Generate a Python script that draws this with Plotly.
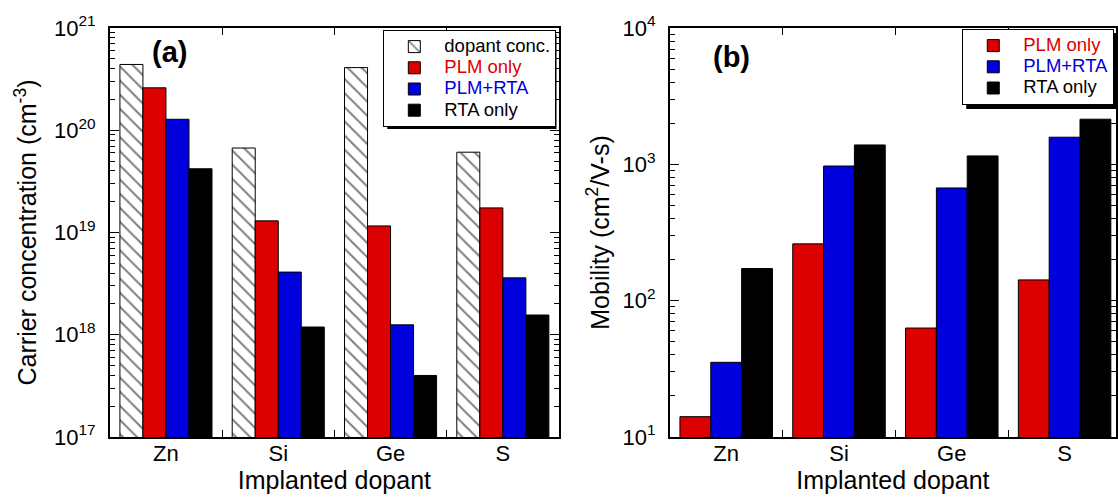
import plotly.graph_objects as go

dopants = ["Zn", "Si", "Ge", "S"]

conc_dopant = [4.4e20, 6.7e19, 4.1e20, 6.1e19]
conc_plm = [2.6e20, 1.3e19, 1.16e19, 1.74e19]
conc_plm_rta = [1.28e20, 4.1e18, 1.25e18, 3.6e18]
conc_rta = [4.2e19, 1.19e18, 4.0e17, 1.56e18]

mob_plm = [14.1, 261, 63, 142]
mob_plm_rta = [35.3, 972, 671, 1581]
mob_rta = [172, 1387, 1153, 2143]

RED = "#dc0000"
BLUE = "#0000dc"
FONT = "Liberation Sans"
W, H = 1118, 497
TOP, BOT = 28, 437
PH = BOT - TOP


def px_x(x):
    return x / W


def px_y(y):
    return 1 - (y - TOP) / PH


def lname(text, color="black"):
    return "<span style='font-size:18.5px;color:%s'>%s</span>" % (color, text)


fig = go.Figure()

line = dict(color="black", width=1)

fig.add_trace(go.Bar(x=dopants, y=conc_dopant, name=lname("dopant conc."),
                     marker=dict(color="white", line=line,
                                 pattern=dict(shape="\\", fgcolor="black", bgcolor="white", size=10, solidity=0.2)),
                     xaxis="x", yaxis="y", legend="legend"))
fig.add_trace(go.Bar(x=dopants, y=conc_plm, name=lname("PLM only", RED),
                     marker=dict(color=RED, line=line), xaxis="x", yaxis="y", legend="legend"))
fig.add_trace(go.Bar(x=dopants, y=conc_plm_rta, name=lname("PLM+RTA", BLUE),
                     marker=dict(color=BLUE, line=line), xaxis="x", yaxis="y", legend="legend"))
fig.add_trace(go.Bar(x=dopants, y=conc_rta, name=lname("RTA only"),
                     marker=dict(color="black", line=line), xaxis="x", yaxis="y", legend="legend"))

fig.add_trace(go.Bar(x=dopants, y=mob_plm, name=lname("PLM only", RED),
                     marker=dict(color=RED, line=line), xaxis="x2", yaxis="y2", legend="legend2"))
fig.add_trace(go.Bar(x=dopants, y=mob_plm_rta, name=lname("PLM+RTA", BLUE),
                     marker=dict(color=BLUE, line=line), xaxis="x2", yaxis="y2", legend="legend2"))
fig.add_trace(go.Bar(x=dopants, y=mob_rta, name=lname("RTA only"),
                     marker=dict(color="black", line=line), xaxis="x2", yaxis="y2", legend="legend2"))


def minor_vals(lo, hi):
    out = []
    for e in range(lo, hi):
        for m in range(2, 10):
            out.append(float(m) * 10.0 ** e)
    return out


def sup(e):
    return "10<sup>%d</sup>" % e


tickfont = dict(family=FONT, size=22, color="black")
titlefont = dict(family=FONT, size=25, color="black")

common_x = dict(type="category", showline=True, linecolor="black", linewidth=1.5, mirror="ticks",
                ticks="inside", ticklen=7, tickwidth=1.2, tickcolor="black", tickson="boundaries",
                tickfont=tickfont, showgrid=False, zeroline=False, range=[-0.5, 3.5],
                ticklabelstandoff=-4)

common_y = dict(type="log", domain=[0, 1], ticks="inside", ticklen=9, tickwidth=1.2, tickcolor="black",
                showline=True, linecolor="black", linewidth=1.5, mirror="ticks", showgrid=False,
                zeroline=False, tickfont=tickfont, tickmode="array", ticklabelstandoff=8)

legend_common = dict(xanchor="left", yanchor="top", bgcolor="white", bordercolor="black", borderwidth=1,
                     font=dict(family=FONT, size=14, color="black"), tracegroupgap=0, itemwidth=50,
                     traceorder="normal")

fig.update_layout(
    width=W, height=H,
    margin=dict(l=0, r=0, t=TOP, b=H - BOT),
    paper_bgcolor="white", plot_bgcolor="white",
    barmode="group",
    font=dict(family=FONT, color="black"),
    xaxis=dict(domain=[110 / W, 560 / W], anchor="y",
               title=dict(text="Implanted dopant", font=titlefont, standoff=6), **common_x),
    xaxis2=dict(domain=[671 / W, 1.0], anchor="y2",
                title=dict(text="Implanted dopant", font=titlefont, standoff=6),
                **{**common_x, "range": [-0.5, -0.5 + 447 / 113]}),
    yaxis=dict(anchor="x", range=[17, 21],
               tickvals=[10.0 ** e for e in range(17, 22)], ticktext=[sup(e) for e in range(17, 22)],
               minor=dict(tickmode="array", tickvals=minor_vals(17, 21), ticks="inside", ticklen=5,
                          tickcolor="black", tickwidth=1),
               title=dict(text="Carrier concentration (cm<sup>-3</sup>)", font=titlefont, standoff=10),
               **common_y),
    yaxis2=dict(anchor="x2", range=[1, 4],
                tickvals=[10.0 ** e for e in range(1, 5)], ticktext=[sup(e) for e in range(1, 5)],
                minor=dict(tickmode="array", tickvals=minor_vals(1, 4), ticks="inside", ticklen=5,
                           tickcolor="black", tickwidth=1),
                title=dict(text="Mobility (cm<sup>2</sup>/V-s)", font=titlefont, standoff=6),
                **common_y),
    legend=dict(x=px_x(384), y=px_y(30), **legend_common),
    legend2=dict(x=px_x(964), y=px_y(29), **legend_common),
    bargap=0.18,
    showlegend=True,
)

# legend drop shadows
fig.add_shape(type="rect", xref="paper", yref="paper", x0=px_x(388), x1=px_x(557.5), y0=px_y(129), y1=px_y(34),
              fillcolor="black", line=dict(width=0), layer="above")
fig.add_shape(type="rect", xref="paper", yref="paper", x0=px_x(968), x1=1.0, y0=px_y(109), y1=px_y(33),
              fillcolor="black", line=dict(width=0), layer="above")

fig.add_annotation(text="<b>(a)</b>", xref="paper", yref="paper", x=px_x(170), y=px_y(52),
                   xanchor="center", yanchor="middle",
                   showarrow=False, font=dict(family=FONT, size=29, color="black"))
fig.add_annotation(text="<b>(b)</b>", xref="paper", yref="paper", x=px_x(733), y=px_y(57),
                   xanchor="center", yanchor="middle",
                   showarrow=False, font=dict(family=FONT, size=29, color="black"))

fig.write_html("out.html")
